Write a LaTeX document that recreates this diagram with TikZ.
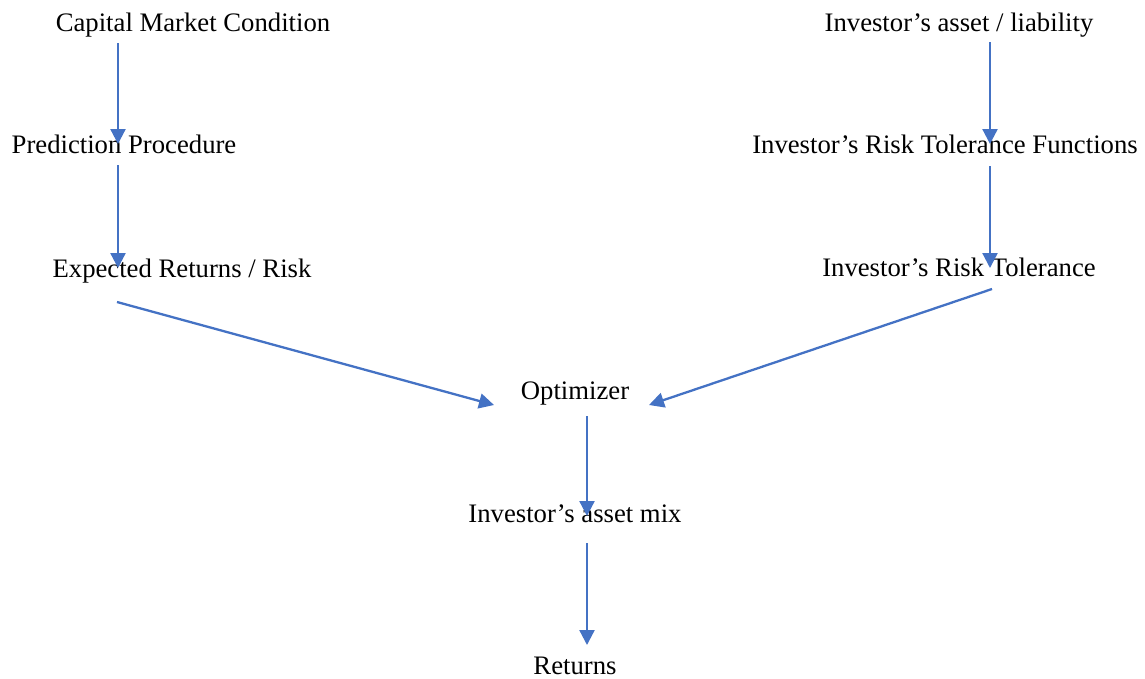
\documentclass[tikz,border=0pt]{standalone}
\usepackage{fontspec}
\setmainfont{Liberation Serif}
\usetikzlibrary{arrows.meta}
\definecolor{arrowblue}{HTML}{4472C4}
\begin{document}
\begin{tikzpicture}[x=1pt,y=-1pt,
  lbl/.style={anchor=base,inner sep=0pt,font=\fontsize{26.7}{30}\selectfont},
  conn/.style={draw=arrowblue,line width=2.3pt,-{Triangle[length=15pt,width=15pt]}}]
\useasboundingbox (0,0) rectangle (1145,678);
\node[lbl] (cmc) at (193,31) {Capital Market Condition};
\node[lbl] (pp) at (124,153) {Prediction Procedure};
\node[lbl] (err) at (182,277) {Expected Returns / Risk};
\node[lbl] (ial) at (959,31) {Investor’s asset / liability};
\node[lbl] (rtf) at (945,153) {Investor’s Risk Tolerance Functions};
\node[lbl] (rt) at (959,276) {Investor’s Risk Tolerance};
\node[lbl] (opt) at (575,399) {Optimizer};
\node[lbl] (mix) at (575,522) {Investor’s asset mix};
\node[lbl] (ret) at (575,674) {Returns};
% connector end points
\coordinate (cmcS) at (118,43);  \coordinate (ppN) at (118,144);
\coordinate (ppS) at (118,165);  \coordinate (errN) at (118,268);
\coordinate (ialS) at (990,42);  \coordinate (rtfN) at (990,144);
\coordinate (rtfS) at (990,166); \coordinate (rtN) at (990,268);
\coordinate (errS) at (117,302); \coordinate (optW) at (494,405);
\coordinate (rtS) at (992,289);  \coordinate (optE) at (649,405);
\coordinate (optS) at (587,416); \coordinate (mixN) at (587,516);
\coordinate (mixS) at (587,543); \coordinate (retN) at (587,645);
\draw[conn] (cmcS) -- (ppN);
\draw[conn] (ppS) -- (errN);
\draw[conn] (ialS) -- (rtfN);
\draw[conn] (rtfS) -- (rtN);
\draw[conn] (errS) -- (optW);
\draw[conn] (rtS) -- (optE);
\draw[conn] (optS) -- (mixN);
\draw[conn] (mixS) -- (retN);
\end{tikzpicture}
\end{document}
